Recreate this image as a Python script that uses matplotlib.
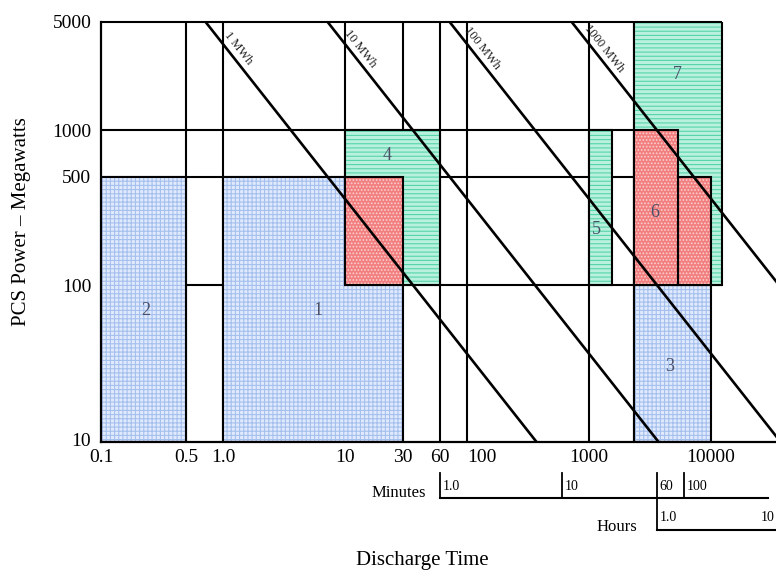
import numpy as np
import matplotlib
matplotlib.use("Agg")
import matplotlib.pyplot as plt
import matplotlib.transforms as mtransforms
from matplotlib.patches import Rectangle

plt.rcParams['font.family'] = ['Liberation Serif', 'DejaVu Serif']
plt.rcParams['hatch.linewidth'] = 0.8

# ---- axis ranges (discharge time in seconds, PCS power in MW) ----
P_MIN, P_MAX = 9.7, 5000
T_MIN, T_MAX = 0.1, 34000

x_ticks = [0.1, 0.5, 1.0, 10, 30, 60, 100, 1000, 10000]
x_tick_labels = ["0.1", "0.5", "1.0", "10", "30", "60", "100", "1000", "10000"]
y_ticks = [10, 100, 500, 1000, 5000]
y_tick_labels = ["10", "100", "500", "1000", "5000"]

# ---- constant-energy lines ----
energies_mwh = [1, 10, 100, 1000]
energy_labels = ["1 MWh", "10 MWh", "100 MWh", "1000 MWh"]
energy_label_power = 3100

# ---- application regions: (t_start, t_end, p_low, p_high) ----
blue_regions = [(1.0, 30, P_MIN, 500), (0.1, 0.5, P_MIN, 500), (2340, 10000, P_MIN, 100)]
green_regions = [(10, 60, 100, 1000), (1000, 1540, 100, 1000), (2340, 12300, 100, 5000)]
red_regions = [(10, 30, 100, 500), (2340, 5350, 100, 1000), (5350, 10000, 100, 500)]

region_numbers = ["1", "2", "3", "4", "5", "6", "7"]
region_label_t = [6.0, 0.234, 4600, 22, 1140, 3480, 5260]
region_label_p = [69, 69, 30, 690, 227, 293, 2280]

# ---- boundary grid: (power, t_start, t_end) and (time, p_low, p_high) ----
h_lines = [(5000, 0.1, 12300), (1000, 0.1, 2340), (500, 0.1, 2340),
           (100, 0.5, 1.0), (100, 10, 12300)]
v_lines = [(0.5, P_MIN, 5000), (1.0, P_MIN, 5000), (10, 100, 5000), (30, 1000, 5000),
           (60, P_MIN, 5000), (100, P_MIN, 5000), (1000, P_MIN, 5000), (2340, P_MIN, 5000)]

# ---- auxiliary time rulers ----
minute_ticks = [1.0, 10, 60, 100]
minute_tick_labels = ["1.0", "10", "60", "100"]
minute_ruler_end_s = 29000
hour_ticks = [1.0, 10]
hour_tick_labels = ["1.0", "10"]

fig = plt.figure(figsize=(7.76, 5.71), dpi=100)
ax = fig.add_axes([101 / 776, 1 - 442 / 571, 675 / 776, 420 / 571])
ax.set_xscale('log')
ax.set_yscale('log')
ax.set_xlim(T_MIN, T_MAX)
ax.set_ylim(P_MIN, P_MAX)

for side in ('top', 'right'):
    ax.spines[side].set_visible(False)
for side in ('left', 'bottom'):
    ax.spines[side].set_linewidth(1.6)
    ax.spines[side].set_zorder(6)

ax.set_xticks(x_ticks)
ax.set_xticklabels(x_tick_labels)
ax.set_yticks(y_ticks)
ax.set_yticklabels(y_tick_labels)
ax.minorticks_off()
ax.tick_params(axis='both', length=0, labelsize=14)
ax.tick_params(axis='x', pad=5)
ax.tick_params(axis='y', pad=7)
ax.get_xticklabels()[6].set_ha('left')

# boundary grid
for p, t0, t1 in h_lines:
    ax.plot([t0, t1], [p, p], color='black', lw=1.5, zorder=1,
            clip_on=(p != 5000), solid_capstyle='butt')
for t, p0, p1 in v_lines:
    ax.plot([t, t], [p0, p1], color='black', lw=1.5, zorder=1, solid_capstyle='butt')


def shade(regions, face, hatch, hatch_color, z):
    for t0, t1, p0, p1 in regions:
        ax.add_patch(Rectangle((t0, p0), t1 - t0, p1 - p0, facecolor=face,
                               edgecolor='none', lw=0, zorder=z))
        ax.add_patch(Rectangle((t0, p0), t1 - t0, p1 - p0, facecolor='none',
                               edgecolor=hatch_color, hatch=hatch, lw=0, zorder=z))
        ax.add_patch(Rectangle((t0, p0), t1 - t0, p1 - p0, facecolor='none',
                               edgecolor='black', lw=1.5, zorder=z + 0.1))


shade(blue_regions, '#e0eafc', '++++', '#a6c0ee', 2)
shade(green_regions, '#b9f1de', '----', '#55d4a9', 2.3)
shade(red_regions, '#f27f7f', '.....', '#fbd0d0', 2.6)

# constant-energy lines: t = E * 3600 / P
p_line = np.logspace(np.log10(P_MIN), np.log10(P_MAX), 200)
for e, lab in zip(energies_mwh, energy_labels):
    t_line = e * 3600.0 / p_line
    ax.plot(t_line, p_line, color='black', lw=1.9, zorder=4)
    a = ax.transData.transform((e * 3600.0 / 4000, 4000))
    b = ax.transData.transform((e * 3600.0 / 1000, 1000))
    ang = np.degrees(np.arctan2(b[1] - a[1], b[0] - a[0]))
    tl = e * 3600.0 / energy_label_power
    ax.text(tl, energy_label_power, lab, rotation=ang, rotation_mode='anchor',
            ha='center', va='bottom', fontsize=9, color='#222222', zorder=5,
            transform=ax.transData + mtransforms.ScaledTranslation(
                1.5 / 72, 1.5 / 72, fig.dpi_scale_trans))

for num, t, p in zip(region_numbers, region_label_t, region_label_p):
    ax.text(t, p, num, ha='center', va='center', fontsize=13, color='#4a5068', zorder=5)

# minute / hour rulers under the time axis
bt = mtransforms.blended_transform_factory(ax.transData, ax.transAxes)
y_min_line, y_min_top = -0.1333, -0.0738
y_hr_line = -0.2095
ax.plot([minute_ticks[0] * 60, minute_ruler_end_s], [y_min_line, y_min_line],
        color='black', lw=1.5, transform=bt, clip_on=False)
for m, lab in zip(minute_ticks, minute_tick_labels):
    ax.plot([m * 60, m * 60], [y_min_line, y_min_top], color='black', lw=1.3,
            transform=bt, clip_on=False)
    ax.text(m * 60, -0.107, lab, ha='left', va='center', fontsize=10,
            transform=bt + mtransforms.ScaledTranslation(2 / 72, 0, fig.dpi_scale_trans))
ax.text(minute_ticks[0] * 60, -0.1214, "Minutes", ha='right', va='center', fontsize=12,
        transform=bt + mtransforms.ScaledTranslation(-10 / 72, 0, fig.dpi_scale_trans))

ax.plot([hour_ticks[0] * 3600, T_MAX * 1.2], [y_hr_line, y_hr_line],
        color='black', lw=1.5, transform=bt, clip_on=False)
for i, (h, lab) in enumerate(zip(hour_ticks, hour_tick_labels)):
    ax.plot([h * 3600, h * 3600], [y_hr_line, y_min_line], color='black', lw=1.3,
            transform=bt, clip_on=False)
    last = i == len(hour_ticks) - 1
    # the last hour tick sits at the figure edge, so its label goes on its left
    dx = -3 if last else 2
    ax.text(h * 3600, -0.1786, lab, ha='right' if last else 'left', va='center',
            fontsize=10,
            transform=bt + mtransforms.ScaledTranslation(dx / 72, 0, fig.dpi_scale_trans))
ax.text(hour_ticks[0] * 3600, -0.202, "Hours", ha='right', va='center', fontsize=12,
        transform=bt + mtransforms.ScaledTranslation(-14 / 72, 0, fig.dpi_scale_trans))

fig.text(22 / 776, 1 - 222 / 571, "PCS Power – Megawatts", rotation=90,
         ha='center', va='center', fontsize=15)
fig.text(422 / 776, 1 - 560 / 571, "Discharge Time", ha='center', va='center', fontsize=15)

fig.savefig("out.png", dpi=100)
